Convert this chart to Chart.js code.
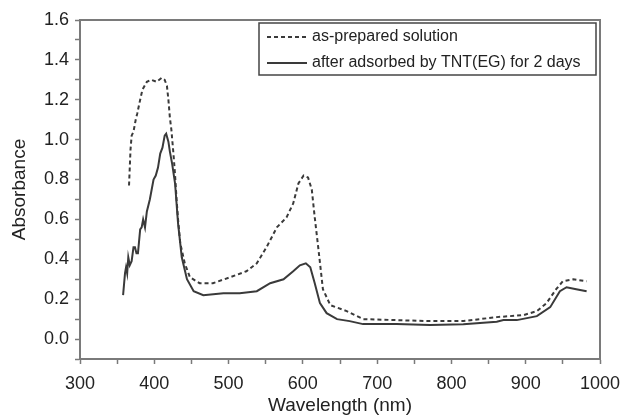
<!DOCTYPE html>
<html>
<head>
<meta charset="utf-8">
<script src="https://cdn.jsdelivr.net/npm/chart.js@4/dist/chart.umd.min.js"></script>
<style>
  html, body { margin: 0; padding: 0; background: #fff; }
  #wrap { width: 622px; height: 417px; }
</style>
</head>
<body>
<div id="wrap"><canvas id="myChart" width="622" height="417"></canvas></div>
<script>
// as-prepared solution (dashed)
const prepNm = [366, 368, 369.5, 372, 375, 377, 381, 384, 390, 396, 403, 410, 414, 417, 419, 421, 423, 426, 428, 430, 432, 435, 441, 448, 461, 479, 502, 524, 538, 551, 565, 578, 587, 594, 601, 607, 612, 616, 621, 627, 637, 659, 681, 726, 771, 816, 861, 897, 915, 928, 941, 950, 964, 982];
const prepAbs = [0.77, 0.95, 1.02, 1.04, 1.10, 1.13, 1.20, 1.25, 1.29, 1.30, 1.29, 1.31, 1.30, 1.27, 1.20, 1.11, 1.05, 0.92, 0.82, 0.70, 0.60, 0.48, 0.38, 0.31, 0.28, 0.28, 0.31, 0.34, 0.38, 0.46, 0.56, 0.61, 0.68, 0.78, 0.82, 0.81, 0.75, 0.61, 0.45, 0.25, 0.17, 0.14, 0.10, 0.095, 0.09, 0.09, 0.11, 0.12, 0.14, 0.18, 0.25, 0.29, 0.30, 0.29];

// after adsorbed by TNT(EG) for 2 days (solid)
const afterNm = [358, 360.6, 362, 363.5, 365, 367, 369.5, 372, 374, 376, 378, 381, 383, 385, 387.5, 390, 394, 399, 402, 405, 408, 411, 414, 416, 419, 421, 424, 428, 432, 437, 444, 453, 466, 493, 515, 538, 556, 574, 587, 596, 604, 610, 616, 623, 632, 646, 663, 681, 726, 771, 816, 861, 870, 888, 915, 933, 946, 955, 968, 982];
const afterAbs = [0.22, 0.33, 0.36, 0.33, 0.41, 0.37, 0.39, 0.46, 0.46, 0.43, 0.43, 0.55, 0.56, 0.60, 0.56, 0.64, 0.70, 0.80, 0.82, 0.86, 0.93, 0.96, 1.02, 1.03, 0.99, 0.94, 0.88, 0.78, 0.58, 0.41, 0.30, 0.24, 0.22, 0.23, 0.23, 0.24, 0.28, 0.30, 0.34, 0.37, 0.38, 0.36, 0.28, 0.18, 0.13, 0.10, 0.09, 0.075, 0.075, 0.07, 0.074, 0.087, 0.095, 0.095, 0.115, 0.16, 0.24, 0.26, 0.25, 0.24];

const seriesLabels = ['as-prepared solution', 'after adsorbed by TNT(EG) for 2 days'];

const toPoints = (xs, ys) => xs.map((x, i) => ({ x: x, y: ys[i] }));

// frame round the plot area
const framePlugin = {
    id: 'frame',
    afterDatasetsDraw(chart) {
        const a = chart.chartArea;
        const c = chart.ctx;
        c.save();
        c.strokeStyle = '#7a7a7a';
        c.lineWidth = 2;
        c.strokeRect(a.left, a.top, a.right - a.left, a.bottom - a.top);
        c.restore();
    }
};

// boxed legend inside the plot, top right
const boxLegend = {
    id: 'boxLegend',
    afterDraw(chart) {
        const c = chart.ctx;
        const x0 = 259, y0 = 23, w = 337, h = 52;
        c.save();
        c.fillStyle = '#fff';
        c.fillRect(x0, y0, w, h);
        c.strokeStyle = '#444';
        c.lineWidth = 1.5;
        c.strokeRect(x0, y0, w, h);
        chart.data.datasets.forEach((ds, i) => {
            const y = y0 + 14 + i * 26;
            c.strokeStyle = ds.borderColor;
            c.lineWidth = ds.borderWidth;
            c.setLineDash(ds.borderDash || []);
            c.beginPath();
            c.moveTo(x0 + 8, y);
            c.lineTo(x0 + 48, y);
            c.stroke();
            c.setLineDash([]);
            c.fillStyle = '#222';
            c.font = '16px "Liberation Sans", Arial, sans-serif';
            c.textBaseline = 'middle';
            c.fillText(ds.label, x0 + 53, y);
        });
        c.restore();
    }
};

const ctx = document.getElementById('myChart').getContext('2d');

const myChart = new Chart(ctx, {
    type: 'line',
    data: {
        datasets: [{
            label: seriesLabels[0],
            data: toPoints(prepNm, prepAbs),
            borderColor: '#3a3a3a',
            borderWidth: 2,
            borderDash: [4, 3],
            pointRadius: 0,
            tension: 0
        }, {
            label: seriesLabels[1],
            data: toPoints(afterNm, afterAbs),
            borderColor: '#3a3a3a',
            borderWidth: 2,
            pointRadius: 0,
            tension: 0
        }]
    },
    options: {
        responsive: false,
        animation: false,
        layout: { padding: { top: 20, right: 22, left: 0, bottom: 0 } },
        plugins: {
            legend: { display: false },
            tooltip: { enabled: false }
        },
        scales: {
            x: {
                type: 'linear',
                min: 300,
                max: 1000,
                afterFit: (s) => { s.height = 58; s.paddingLeft = 0; s.paddingRight = 0; },
                border: { display: true, color: '#7a7a7a', width: 2 },
                grid: { drawOnChartArea: false, tickLength: 5, color: '#7a7a7a', tickWidth: 1.5 },
                ticks: {
                    stepSize: 50,
                    maxRotation: 0,
                    autoSkip: false,
                    padding: 9,
                    color: '#222',
                    font: { family: '"Liberation Sans", Arial, sans-serif', size: 18 },
                    callback: (v) => (v % 100 === 0 ? String(v) : '')
                },
                title: {
                    display: true,
                    text: 'Wavelength (nm)',
                    color: '#222',
                    font: { family: '"Liberation Sans", Arial, sans-serif', size: 19 },
                    padding: { top: 0, bottom: 0 }
                }
            },
            y: {
                min: -0.1,
                max: 1.6,
                afterFit: (s) => { s.width = 80; s.paddingTop = 0; s.paddingBottom = 0; },
                border: { display: true, color: '#7a7a7a', width: 2 },
                grid: { drawOnChartArea: false, tickLength: 5, color: '#7a7a7a', tickWidth: 1.5 },
                ticks: {
                    stepSize: 0.1,
                    autoSkip: false,
                    padding: 6,
                    color: '#222',
                    font: { family: '"Liberation Sans", Arial, sans-serif', size: 18 },
                    callback: (v) => {
                        const k = Math.round(v * 10);
                        return (k >= 0 && k % 2 === 0) ? (k / 10).toFixed(1) : '';
                    }
                },
                title: {
                    display: true,
                    text: 'Absorbance',
                    color: '#222',
                    font: { family: '"Liberation Sans", Arial, sans-serif', size: 19 },
                    padding: { top: 8, bottom: 0 }
                }
            }
        }
    },
    plugins: [framePlugin, boxLegend]
});
</script>
</body>
</html>
